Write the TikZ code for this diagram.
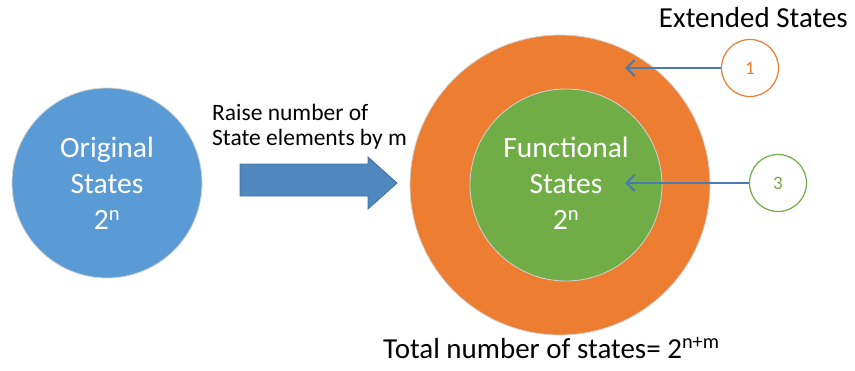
\documentclass[tikz,border=0pt]{standalone}
\usepackage{fontspec}
\setmainfont{Carlito}
\usetikzlibrary{arrows.meta}
\definecolor{cblue}{HTML}{5B9BD5}
\definecolor{corange}{HTML}{ED7D31}
\definecolor{cgreen}{HTML}{70AD47}
\definecolor{arrowblue}{HTML}{4A7AAF}
\definecolor{bigarrow}{HTML}{4F87BF}
\definecolor{bigarrowline}{HTML}{41719C}
\begin{document}
\begin{tikzpicture}[x=1pt,y=-1pt]
\tikzset{
  statecircle/.style={circle, draw=gray!35, line width=0.8pt, inner sep=0pt},
  bigtext/.style={font=\fontsize{29.5}{36}\selectfont, text=white, align=center},
  labeltext/.style={font=\fontsize{23.5}{25}\selectfont, text=black, inner sep=0pt},
  titletext/.style={font=\fontsize{29}{34}\selectfont, text=black, inner sep=0pt},
  callout/.style={circle, fill=white, line width=1.2pt, minimum size=57pt, inner sep=0pt, font=\fontsize{19}{22}\selectfont},
  pointer/.style={draw=arrowblue, line width=2.2pt, -{Straight Barb[length=8pt,width=16pt,line width=2.2pt]}}
}
\useasboundingbox (0,0) rectangle (855,370);
% left circle
\node[statecircle, fill=cblue, minimum size=190pt] (orig) at (107,183) {};
\node[bigtext] (origtext) at (orig.center) {Original\\States\\2\textsuperscript{n}};
% right circles
\node[statecircle, fill=corange, minimum size=300pt] (ext) at (560,185) {};
\node[statecircle, fill=cgreen, minimum size=192pt] (func) at (566,185) {};
\node[bigtext] (functext) at (566,183) {Functional\\States\\2\textsuperscript{n}};
% big arrow
\draw[fill=bigarrow, draw=bigarrowline, line width=0.8pt]
  (240,164) -- (368,164) -- (368,157) -- (397,183) -- (368,209) -- (368,196) -- (240,196) -- cycle;
\node[labeltext, anchor=base west] (raise1) at (212,120) {Raise number of};
\node[labeltext, anchor=base west] (raise2) at (212,145) {State elements by m};
% callouts
\node[callout, draw=corange, text=corange] (c1) at (750,68) {1};
\node[callout, draw=cgreen, text=cgreen] (c3) at (778,183) {3};
\coordinate (t1) at (625,68);
\coordinate (t3) at (625,183);
\draw[pointer] (c1.west) -- (t1);
\draw[pointer] (c3.west) -- (t3);
% titles
\node[titletext, anchor=base east] (exttitle) at (848,27) {Extended States};
\node[titletext, anchor=base west] (total) at (383,358) {Total number of states= 2\textsuperscript{n+m}};
\end{tikzpicture}
\end{document}
